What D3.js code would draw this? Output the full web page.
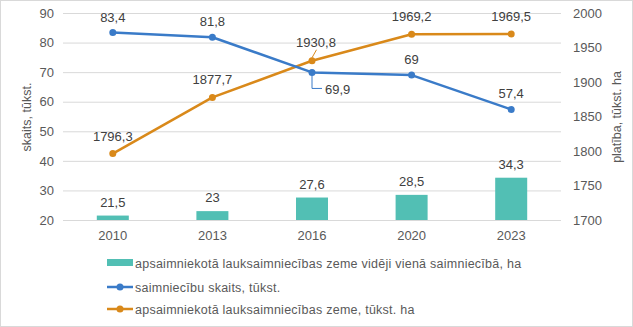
<!DOCTYPE html>
<html><head><meta charset="utf-8">
<script src="https://cdn.jsdelivr.net/npm/d3@7"></script>
<style>body{margin:0;background:#fff}svg{display:block;font-family:"Liberation Sans",Arial,sans-serif}</style>
</head><body><svg id="c" width="633" height="327"></svg>
<script>
const years = ["2010","2013","2016","2020","2023"];
const avgLand = [21.5,23,27.6,28.5,34.3];
const farmCount = [83.4,81.8,69.9,69,57.4];
const landArea = [1796.3,1877.7,1930.8,1969.2,1969.5];
const leftTicks = [20,30,40,50,60,70,80,90];
const rightTicks = [1700,1750,1800,1850,1900,1950,2000];
const legendLabels = ["apsaimniekotā lauksaimniecības zeme vidēji vienā saimniecībā, ha","saimniecību skaits, tūkst.","apsaimniekotā lauksaimniecības zeme, tūkst. ha"];
const fmt = v => String(v).replace(".", ",");

const svg = d3.select("#c");
const C = {teal:"#52BFB4", blue:"#3A7BC8", orange:"#D9891A", grid:"#D9D9D9", txt:"#595959", lab:"#404040"};
const L=63, R=561, T=13, B=220;
svg.append("rect").attr("x",0.5).attr("y",0.5).attr("width",632).attr("height",326).attr("fill","none").attr("stroke","#d9d9d9");

const x = d3.scaleBand().domain(years).range([L,R]);
const yL = d3.scaleLinear().domain([20,90]).range([B,T]);
const yR = d3.scaleLinear().domain([1700,2000]).range([B,T]);

// grid
svg.append("g").selectAll("line").data(leftTicks).join("line")
 .attr("x1",L).attr("x2",R).attr("y1",d=>yL(d)+0.5).attr("y2",d=>yL(d)+0.5).attr("stroke",C.grid);

// axes
const ax = svg.append("g").attr("transform",`translate(0,${B})`).call(d3.axisBottom(x).tickSize(0).tickPadding(11));
const al = svg.append("g").attr("transform",`translate(${L-9},0)`).call(d3.axisLeft(yL).tickValues(leftTicks).tickSize(0).tickPadding(0));
const ar = svg.append("g").attr("transform",`translate(${R+12},0)`).call(d3.axisRight(yR).tickValues(rightTicks).tickFormat(d3.format("d")).tickSize(0).tickPadding(0));
[ax,al,ar].forEach(g=>{g.select(".domain").remove(); g.selectAll("text").attr("fill",C.txt).attr("font-size",13).attr("font-family","Liberation Sans, Arial, sans-serif");});

// axis titles
svg.append("text").attr("transform",`translate(31,117) rotate(-90)`).attr("text-anchor","middle").attr("fill",C.txt).attr("font-size",12.5).text("skaits, tūkst.");
svg.append("text").attr("transform",`translate(621,117) rotate(-90)`).attr("text-anchor","middle").attr("fill",C.txt).attr("font-size",12.5).text("platība, tūkst. ha");

// bars
const bw = 32;
svg.append("g").selectAll("rect").data(avgLand).join("rect")
 .attr("x",(d,i)=>x(years[i])+x.bandwidth()/2-bw/2).attr("width",bw)
 .attr("y",d=>yL(d)).attr("height",d=>B-yL(d)).attr("fill",C.teal);
svg.append("g").selectAll("text").data(avgLand).join("text")
 .attr("x",(d,i)=>x(years[i])+x.bandwidth()/2).attr("y",d=>yL(d)-9)
 .attr("text-anchor","middle").attr("font-size",13).attr("fill",C.lab).text(fmt);

const cx = i => x(years[i])+x.bandwidth()/2;
function series(vals, y, color){
  const line = d3.line().x((d,i)=>cx(i)).y(d=>y(d));
  svg.append("path").attr("d",line(vals)).attr("fill","none").attr("stroke",color).attr("stroke-width",2.5).attr("stroke-linejoin","round");
  svg.append("g").selectAll("circle").data(vals).join("circle")
   .attr("cx",(d,i)=>cx(i)).attr("cy",d=>y(d)).attr("r",3.5).attr("fill",color);
}
series(landArea, yR, C.orange);
series(farmCount, yL, C.blue);

// labels for lines
farmCount.forEach((d,i)=>{
  if(i===2){
    const px=cx(i), py=yL(d);
    svg.append("path").attr("d",`M${px},${py+3}V${py+16}H${px+10}`).attr("fill","none").attr("stroke",C.blue).attr("stroke-width",1);
    svg.append("text").attr("x",px+13).attr("y",py+22).attr("font-size",13).attr("fill",C.lab).text(fmt(d));
  } else {
    svg.append("text").attr("x",cx(i)).attr("y",yL(d)-11).attr("text-anchor","middle").attr("font-size",13).attr("fill",C.lab).text(fmt(d));
  }
});
landArea.forEach((d,i)=>{
  if(i===2){
    const px=cx(i), py=yR(d);
    svg.append("line").attr("x1",px).attr("y1",py-3).attr("x2",px+4.5).attr("y2",py-11).attr("stroke",C.orange).attr("stroke-width",1);
    svg.append("text").attr("x",px+4).attr("y",py-14).attr("text-anchor","middle").attr("font-size",13).attr("fill",C.lab).text(fmt(d));
  } else {
    svg.append("text").attr("x",cx(i)).attr("y",yR(d)-13).attr("text-anchor","middle").attr("font-size",13).attr("fill",C.lab).text(fmt(d));
  }
});

// legend
const lg = svg.append("g");
const rows=[263,287,309];
lg.append("rect").attr("x",107).attr("y",rows[0]-4).attr("width",26).attr("height",7).attr("fill",C.teal);
[[C.blue,1],[C.orange,2]].forEach(([c,k])=>{
  lg.append("line").attr("x1",107).attr("x2",133).attr("y1",rows[k]).attr("y2",rows[k]).attr("stroke",c).attr("stroke-width",2.5);
  lg.append("circle").attr("cx",120).attr("cy",rows[k]).attr("r",3.5).attr("fill",c);
});
legendLabels.forEach((t,k)=>{
  lg.append("text").attr("x",135).attr("y",rows[k]+4.5).attr("font-size",12.5).attr("letter-spacing",0.25).attr("fill",C.txt).text(t);
});
</script></body></html>
